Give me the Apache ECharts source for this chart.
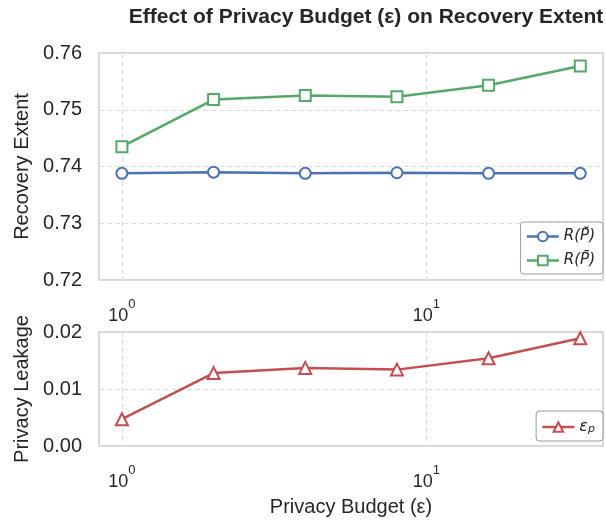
<!DOCTYPE html>
<html>
<head>
<meta charset="utf-8">
<script src="https://cdn.jsdelivr.net/npm/echarts@6/dist/echarts.min.js"></script>
<style>html,body{margin:0;padding:0;background:#fff}#c{width:606px;height:523px}</style>
</head>
<body>
<div id="c"></div>
<script>
const budgets = [1, 2, 4, 8, 16, 32];
const recoveryBreve = [0.7388, 0.7390, 0.7388, 0.7389, 0.7388, 0.7388];
const recoveryBar = [0.7435, 0.7518, 0.7525, 0.7523, 0.7543, 0.7577];
const leakage = [0.0047, 0.0128, 0.0137, 0.0134, 0.0154, 0.0189];
const recoveryTicks = [0.72, 0.73, 0.74, 0.75, 0.76];
const leakageTicks = [0.00, 0.01, 0.02];

const nameBreve = 'R(P\u0306)';
const nameBar = 'R(P\u0304)';
const nameEps = 'eps_p';

const txt = '#262626';
const FONT = 'Liberation Sans, Arial, sans-serif';
const pair = (ys) => budgets.map((x, i) => [x, ys[i]]);

function xAxisCfg(gi, withName) {
  return {
    type: 'log', logBase: 10, gridIndex: gi, min: 0.841, max: 38,
    axisLine: { show: false }, axisTick: { show: false },
    splitLine: { show: true, lineStyle: { color: '#dddddd', type: [5, 3], width: 1 } },
    axisLabel: {
      margin: 27, color: txt, fontFamily: FONT,
      formatter: function (v) {
        const l = Math.log10(v), e = Math.round(l);
        if (Math.abs(l - e) > 1e-6) return '';
        return '{a|10}{b|' + e + '}';
      },
      rich: {
        a: { fontSize: 18, lineHeight: 18, verticalAlign: 'bottom', color: txt, fontFamily: FONT },
        b: { fontSize: 13, lineHeight: 13, verticalAlign: 'bottom', padding: [0, 0, 14, 0], color: txt, fontFamily: FONT }
      }
    },
    name: withName ? 'Privacy Budget (\u03b5)' : '',
    nameLocation: 'middle', nameGap: 51,
    nameTextStyle: { fontSize: 20, color: txt, fontFamily: FONT }
  };
}
function yAxisCfg(gi, ticks, name) {
  return {
    type: 'value', gridIndex: gi, min: ticks[0], max: ticks[ticks.length - 1], interval: 0.01,
    axisLine: { show: false }, axisTick: { show: false },
    splitLine: { show: true, lineStyle: { color: '#dddddd', type: [5, 3], width: 1 } },
    axisLabel: { margin: 17, fontSize: 20, color: txt, fontFamily: FONT, formatter: v => v.toFixed(2) },
    name: name, nameLocation: 'middle', nameGap: 64,
    nameTextStyle: { fontSize: 20, color: txt, fontFamily: FONT }
  };
}

const legendCommon = {
  orient: 'vertical', right: 3,
  itemWidth: 32, itemHeight: 12, itemGap: 9, padding: [7, 8, 6, 5],
  borderColor: '#999999', borderWidth: 1, borderRadius: 3, backgroundColor: 'rgba(255,255,255,0.85)',
  lineStyle: { width: 2.5 },
  itemStyle: { borderWidth: 2 }
};

const chart = echarts.init(document.getElementById('c'), null, { renderer: 'canvas' });
chart.setOption({
  backgroundColor: '#ffffff',
  animation: false,
  title: {
    text: 'Effect of Privacy Budget (\u03b5) on Recovery Extent',
    left: 361, top: 2, textAlign: 'center',
    textStyle: { fontSize: 21, fontWeight: 'bold', color: txt, fontFamily: FONT }
  },
  grid: [
    { left: 99, top: 53, width: 508, height: 227, show: true, borderColor: '#cccccc', borderWidth: 1.5, backgroundColor: 'transparent' },
    { left: 99, top: 332, width: 508, height: 114, show: true, borderColor: '#cccccc', borderWidth: 1.5, backgroundColor: 'transparent' }
  ],
  xAxis: [xAxisCfg(0, false), xAxisCfg(1, true)],
  yAxis: [yAxisCfg(0, recoveryTicks, 'Recovery Extent'), yAxisCfg(1, leakageTicks, 'Privacy Leakage')],
  legend: [
    Object.assign({}, legendCommon, {
      data: [nameBreve, nameBar], top: 222,
      textStyle: { fontSize: 15, fontStyle: 'italic', color: txt, fontFamily: 'DejaVu Sans, sans-serif' }
    }),
    Object.assign({}, legendCommon, {
      data: [nameEps], top: 411,
      formatter: () => '{e|\u03b5}{s|p}',
      textStyle: {
        fontSize: 15, color: txt,
        rich: {
          e: { fontSize: 16, fontStyle: 'italic', color: txt, fontFamily: 'DejaVu Sans, sans-serif', verticalAlign: 'top', lineHeight: 16 },
          s: { fontSize: 11, fontStyle: 'italic', color: txt, fontFamily: 'DejaVu Sans, sans-serif', verticalAlign: 'bottom', lineHeight: 11, padding: [6, 0, 0, 0] }
        }
      }
    })
  ],
  series: [
    {
      name: nameBreve, type: 'line', xAxisIndex: 0, yAxisIndex: 0, data: pair(recoveryBreve),
      symbol: 'circle', symbolSize: 11, color: '#4c72b0',
      lineStyle: { width: 2.5, color: '#4c72b0' },
      itemStyle: { color: '#ffffff', borderColor: '#4c72b0', borderWidth: 2 }
    },
    {
      name: nameBar, type: 'line', xAxisIndex: 0, yAxisIndex: 0, data: pair(recoveryBar),
      symbol: 'rect', symbolSize: 11, color: '#55a868',
      lineStyle: { width: 2.5, color: '#55a868' },
      itemStyle: { color: '#ffffff', borderColor: '#55a868', borderWidth: 2 }
    },
    {
      name: nameEps, type: 'line', xAxisIndex: 1, yAxisIndex: 1, data: pair(leakage),
      symbol: 'triangle', symbolSize: 12, color: '#c44e52',
      lineStyle: { width: 2.5, color: '#c44e52' },
      itemStyle: { color: '#ffffff', borderColor: '#c44e52', borderWidth: 2 }
    }
  ]
});
</script>
</body>
</html>
